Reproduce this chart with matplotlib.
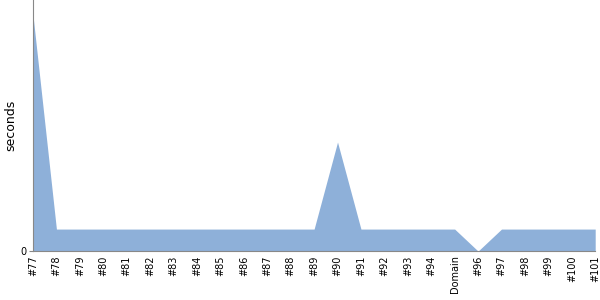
import matplotlib
matplotlib.use("Agg")
import matplotlib.pyplot as plt

labels = ["#77", "#78", "#79", "#80", "#81", "#82", "#83", "#84", "#85", "#86",
          "#87", "#88", "#89", "#90", "#91", "#92", "#93", "#94", "Domain",
          "#96", "#97", "#98", "#99", "#100", "#101"]
seconds = [10.7, 1, 1, 1, 1, 1, 1, 1, 1, 1,
           1, 1, 1, 4.95, 1, 1, 1, 1, 1,
           0, 1, 1, 1, 1, 1]

fig = plt.figure(figsize=(6, 3), dpi=100)
ax = fig.add_axes([0.055, 0.163, 0.937, 0.837])

x = list(range(len(labels)))
ax.fill_between(x, seconds, 0, color="#8eb0d9", linewidth=0)

ax.set_xlim(0, len(labels) - 1)
ax.set_ylim(0, 11.4)
ax.set_yticks([0])
ax.set_yticklabels(["0"], fontsize=7)
ax.set_xticks(x)
ax.set_xticklabels(labels, rotation=90, fontsize=7)
ax.tick_params(axis="x", length=0, pad=3)
ax.tick_params(axis="y", length=3, color="#888888", pad=2)
ax.set_ylabel("seconds", fontsize=9)
ax.yaxis.set_label_coords(-0.028, 0.5)

for side in ["top", "right"]:
    ax.spines[side].set_visible(False)
for side in ["left", "bottom"]:
    ax.spines[side].set_color("#888888")

fig.savefig("out.png", dpi=100)
